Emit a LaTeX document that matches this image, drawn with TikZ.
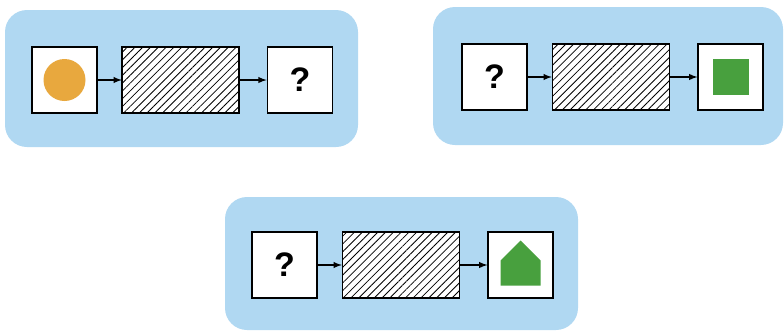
\documentclass[tikz,border=0pt]{standalone}
\usepackage{fontspec}
\setsansfont{Liberation Sans}
\usepackage{tikz}
\usetikzlibrary{shapes,arrows,positioning,patterns.meta}

\definecolor{panelblue}{RGB}{176,216,242}
\definecolor{dotorange}{RGB}{232,168,62}
\definecolor{shapegreen}{RGB}{72,160,62}

\tikzset{
  card/.style={draw, rectangle, fill=white, line width=1.6pt, minimum width=65pt, minimum height=66pt, inner sep=0pt, font=\sffamily\bfseries\fontsize{34}{34}\selectfont},
  machine/.style={draw, rectangle, line width=1.6pt, minimum width=117pt, minimum height=66pt, preaction={fill=white}, pattern={Lines[angle=45, distance=5.5pt, line width=0.8pt]}},
  flow/.style={-latex, line width=1.8pt}
}

\begin{document}
\begin{tikzpicture}[x=1pt, y=-1pt]
  \useasboundingbox (0,0) rectangle (784,330);

  % blue panels
  \fill[panelblue, rounded corners=22pt] (5,10) rectangle (358,147);
  \fill[panelblue, rounded corners=22pt] (433,7) rectangle (783,145);
  \fill[panelblue, rounded corners=22pt] (225,197) rectangle (578,330);

  % first panel
  \node[card] (in1) at (64.5,80) {};
  \node[machine, right=24pt of in1] (m1) {};
  \node[card, right=27pt of m1] (out1) {?};
  \node[circle, fill=dotorange, minimum size=42pt, inner sep=0pt] (dot) at (in1) {};

  \draw[flow] (in1) -- (m1);
  \draw[flow] (m1) -- (out1);

  % second panel
  \node[card] (in2) at (494.5,77) {?};
  \node[machine, right=24pt of in2] (m2) {};
  \node[card, right=27pt of m2] (out2) {};
  \node[rectangle, fill=shapegreen, minimum size=36pt, inner sep=0pt] (sq) at (out2) {};

  \draw[flow] (in2) -- (m2);
  \draw[flow] (m2) -- (out2);

  % third panel
  \node[card] (in3) at (284.5,265) {?};
  \node[machine, right=24pt of in3] (m3) {};
  \node[card, right=27pt of m3] (out3) {};
  \fill[shapegreen] (out3.center) ++(-20,20.5) -- ++(40,0) -- ++(0,-25) -- ++(-20,-20) -- ++(-20,20) -- cycle;

  \draw[flow] (in3) -- (m3);
  \draw[flow] (m3) -- (out3);
\end{tikzpicture}
\end{document}
